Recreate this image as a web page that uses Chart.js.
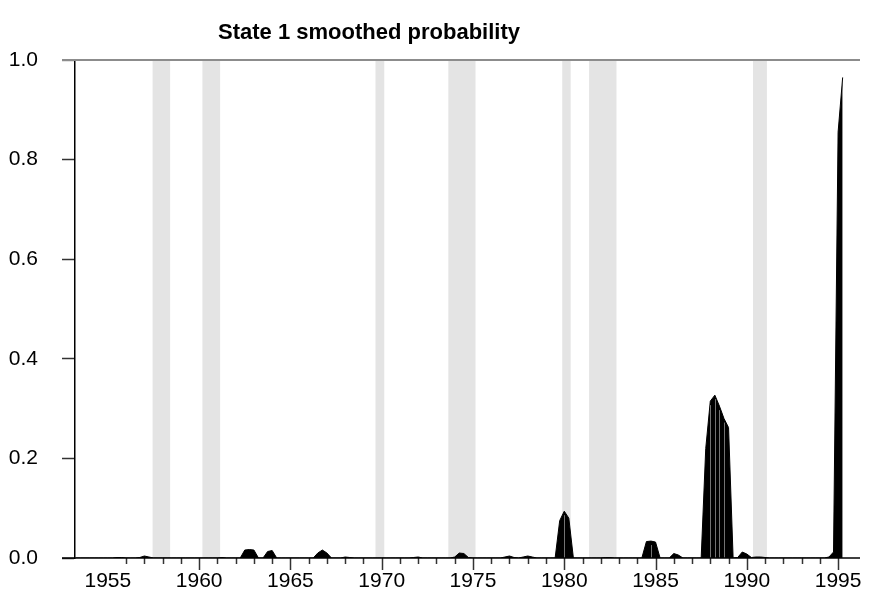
<!DOCTYPE html>
<html>
<head>
<meta charset="utf-8">
<script src="https://cdn.jsdelivr.net/npm/chart.js@4"></script>
<style>
  body { margin: 0; background: #fff; }
  #wrap { width: 877px; height: 595px; }
</style>
</head>
<body>
<div id="wrap"><canvas id="probChart"></canvas></div>
<script>
// quarterly smoothed probabilities, first value is 1953 Q2
const firstQuarter = 1953.25;
const prob = [
            0,     0,     0,      // 1953
  0,        0,     0,     0,      // 1954
  0,        0,     0.001, 0.001,  // 1955
  0,        0,     0,     0.001,  // 1956
  0.004,    0.002, 0,     0,      // 1957
  0,        0,     0,     0,      // 1958
  0,        0,     0,     0,      // 1959
  0,        0,     0,     0,      // 1960
  0,        0.001, 0,     0,      // 1961
  0,        0,     0.016, 0.017,  // 1962
  0.016,    0,     0,     0.013,  // 1963
  0.015,    0,     0,     0,      // 1964
  0,        0,     0,     0,      // 1965
  0,        0,     0.01,  0.016,  // 1966
  0.01,     0,     0,     0,      // 1967
  0.002,    0.001, 0,     0,      // 1968
  0,        0,     0,     0,      // 1969
  0,        0,     0,     0,      // 1970
  0,        0,     0,     0.001,  // 1971
  0.002,    0,     0,     0,      // 1972
  0,        0,     0,     0,      // 1973
  0.002,    0.01,  0.009, 0.001,  // 1974
  0,        0,     0,     0,      // 1975
  0,        0,     0,     0.002,  // 1976
  0.004,    0.001, 0,     0.002,  // 1977
  0.004,    0.002, 0,     0,      // 1978
  0,        0,     0,     0.075,  // 1979
  0.094,    0.08,  0,     0,      // 1980
  0,        0,     0,     0,      // 1981
  0,        0.001, 0.001, 0,      // 1982
  0,        0,     0,     0,      // 1983
  0,        0,     0.033, 0.034,  // 1984
  0.032,    0,     0,     0,      // 1985
  0.009,    0.006, 0,     0,      // 1986
  0,        0,     0,     0.22,   // 1987
  0.315,    0.327, 0.305, 0.28,   // 1988
  0.262,    0,     0.001, 0.012,  // 1989
  0.008,    0.001, 0.002, 0.002,  // 1990
  0.001,    0,     0,     0,      // 1991
  0,        0,     0,     0,      // 1992
  0,        0,     0,     0,      // 1993
  0,        0,     0.002, 0.012,  // 1994
  0.855,    0.965                 // 1995
];

// shaded recession periods (decimal years)
const recessionStart = [1957.45, 1960.18, 1969.66, 1973.65, 1979.89, 1981.36, 1990.34];
const recessionEnd   = [1958.41, 1961.15, 1970.14, 1975.14, 1980.35, 1982.86, 1991.10];

const yearLabels = [1955, 1960, 1965, 1970, 1975, 1980, 1985, 1990, 1995];
const yearTicksFrom = 1956, yearTicksTo = 1995;
const yTicks = [0, 0.2, 0.4, 0.6, 0.8, 1.0];
const titleText = 'State 1 smoothed probability';

const points = prob.map((p, i) => ({ x: firstQuarter + i / 4, y: p }));

const decorations = {
  id: 'decorations',
  beforeDatasetsDraw(chart) {
    const { ctx, chartArea: a, scales: { x } } = chart;
    ctx.save();
    ctx.fillStyle = '#e4e4e4';
    recessionStart.forEach((s, i) => {
      const x0 = x.getPixelForValue(s), x1 = x.getPixelForValue(recessionEnd[i]);
      ctx.fillRect(x0, a.top, x1 - x0, a.bottom - a.top);
    });
    ctx.restore();
  },
  afterDatasetsDraw(chart) {
    const { ctx, chartArea: a, scales: { x, y } } = chart;
    ctx.save();
    // faint seams between quarterly polygons
    ctx.strokeStyle = 'rgba(255,255,255,0.45)';
    ctx.lineWidth = 1;
    points.forEach((p, i) => {
      if (p.y > 0.02 && p.y < 0.5 && i > 0 && i < points.length - 1 && points[i - 1].y > 0 && points[i + 1].y > 0) {
        const px = Math.round(x.getPixelForValue(p.x)) + 0.5;
        ctx.beginPath();
        ctx.moveTo(px, y.getPixelForValue(p.y) + 4);
        ctx.lineTo(px, y.getPixelForValue(0));
        ctx.stroke();
      }
    });
    // top frame line
    ctx.strokeStyle = '#8c8c8c';
    ctx.lineWidth = 2;
    ctx.beginPath();
    ctx.moveTo(a.left - 13, a.top);
    ctx.lineTo(a.right, a.top);
    ctx.stroke();
    // year tick marks
    ctx.strokeStyle = '#333';
    ctx.lineWidth = 1.5;
    for (let yr = yearTicksFrom; yr <= yearTicksTo; yr++) {
      const px = Math.round(x.getPixelForValue(yr)) + 0.5;
      const len = yr % 5 === 0 ? 12 : 6;
      ctx.beginPath();
      ctx.moveTo(px, a.bottom);
      ctx.lineTo(px, a.bottom + len);
      ctx.stroke();
    }
    // bottom axis line including the extension under the y ticks
    ctx.strokeStyle = '#000';
    ctx.lineWidth = 1.5;
    ctx.beginPath();
    ctx.moveTo(a.left - 13, a.bottom);
    ctx.lineTo(a.right, a.bottom);
    ctx.stroke();
    // title
    ctx.fillStyle = '#000';
    ctx.font = 'bold 22px "Liberation Sans", Arial, sans-serif';
    ctx.textAlign = 'center';
    ctx.textBaseline = 'middle';
    ctx.fillText(titleText, 369, 33);
    ctx.restore();
  }
};

new Chart(document.getElementById('probChart').getContext('2d'), {
  type: 'line',
  data: {
    datasets: [{
      data: points,
      fill: 'origin',
      backgroundColor: '#000',
      borderColor: '#000',
      borderWidth: 1,
      pointRadius: 0,
      tension: 0
    }]
  },
  options: {
    responsive: true,
    maintainAspectRatio: false,
    animation: false,
    layout: { padding: { top: 60, right: 17, left: 0, bottom: 0 } },
    plugins: {
      legend: { display: false },
      tooltip: { enabled: false },
      title: { display: false }
    },
    scales: {
      x: {
        type: 'linear',
        min: 1953.2,
        max: 1996.2,
        afterBuildTicks: (scale) => { scale.ticks = yearLabels.map(v => ({ value: v })); },
        afterFit: (scale) => { scale.height = 37; },
        ticks: {
          color: '#000',
          font: { family: '"Liberation Sans", Arial, sans-serif', size: 21 },
          padding: 11,
          maxRotation: 0,
          autoSkip: false,
          callback: (v) => String(v)
        },
        grid: { display: false, drawTicks: false },
        border: { display: false }
      },
      y: {
        min: 0,
        max: 1,
        afterBuildTicks: (scale) => { scale.ticks = yTicks.map(v => ({ value: v })); },
        afterFit: (scale) => { scale.width = 75; },
        ticks: {
          color: '#000',
          font: { family: '"Liberation Sans", Arial, sans-serif', size: 21 },
          padding: 24,
          callback: (v) => v.toFixed(1)
        },
        grid: {
          drawOnChartArea: false,
          drawTicks: true,
          tickLength: 13,
          tickColor: (c) => c.tick && c.tick.value === 1 ? '#8c8c8c' : '#333',
          tickWidth: 1.5
        },
        border: { display: true, color: '#000', width: 1.5 }
      }
    }
  },
  plugins: [decorations]
});
</script>
</body>
</html>
